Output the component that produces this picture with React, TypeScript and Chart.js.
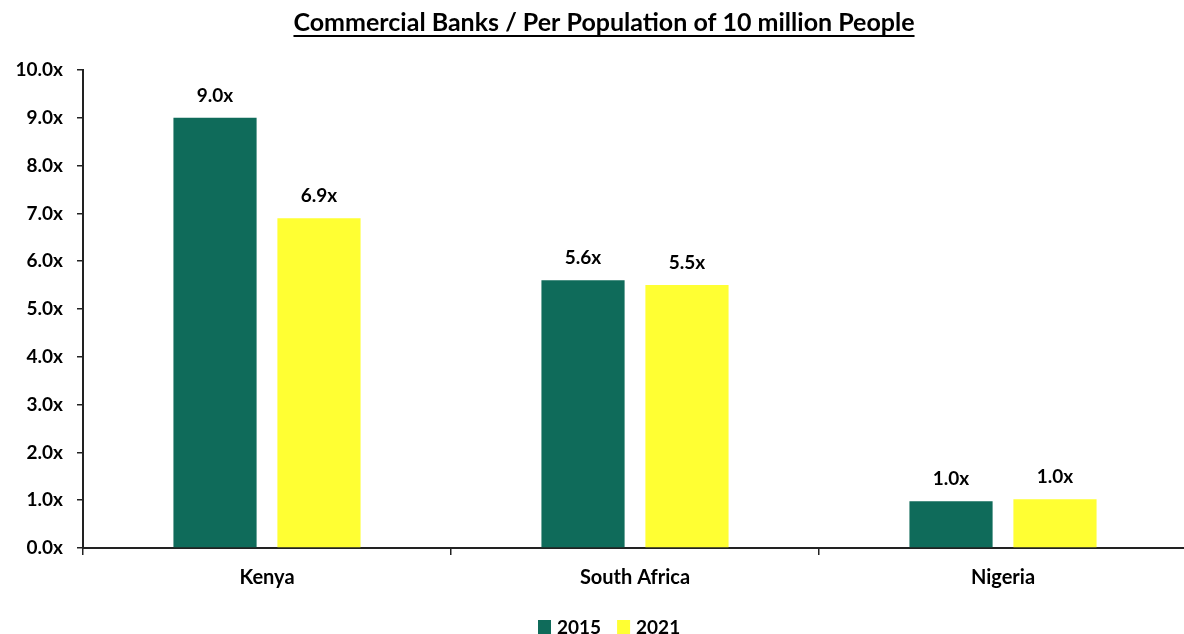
import React, { useEffect, useRef } from "react";
import { Chart, registerables } from "chart.js";

Chart.register(...registerables);

const titleText = "Commercial Banks / Per Population of 10 million People";
const categories = ["Kenya", "South Africa", "Nigeria"];
const seriesNames = ["2015", "2021"];
const values2015 = [9.0, 5.6, 0.98];
const values2021 = [6.9, 5.5, 1.02];
const yMin = 0;
const yMax = 10;
const yStep = 1;

const colors = ["#0F6B5A", "#FFFF33"];
const FONT = "Lato, 'Open Sans', sans-serif";

const fmt = (v: number) => Number(v).toFixed(1) + "x";

const overlayPlugin = {
  id: "overlay",
  afterDatasetsDraw(chart: any) {
    const ctx = chart.ctx;
    ctx.save();
    // data labels
    ctx.font = `bold 19px ${FONT}`;
    ctx.fillStyle = "#000";
    ctx.textAlign = "center";
    ctx.textBaseline = "alphabetic";
    chart.data.datasets.forEach((ds: any, i: number) => {
      const meta = chart.getDatasetMeta(i);
      meta.data.forEach((bar: any, j: number) => {
        ctx.fillText(fmt(ds.data[j]), bar.x, bar.y - 16);
      });
    });
    // title
    ctx.font = `bold 25px ${FONT}`;
    ctx.textAlign = "center";
    const tx = 604;
    const ty = 31;
    ctx.fillText(titleText, tx, ty);
    const w = ctx.measureText(titleText).width;
    ctx.fillRect(tx - w / 2, ty + 4, w, 2);
    // legend
    ctx.font = `bold 19px ${FONT}`;
    ctx.textAlign = "left";
    let x = 538;
    chart.data.datasets.forEach((ds: any) => {
      ctx.fillStyle = ds.backgroundColor;
      ctx.fillRect(x, 620, 13, 14);
      ctx.fillStyle = "#000";
      ctx.fillText(ds.label, x + 19, 634);
      x += 19 + ctx.measureText(ds.label).width + 16;
    });
    ctx.restore();
  },
};

export default function App() {
  const ref = useRef<HTMLCanvasElement>(null);
  useEffect(() => {
    let chart: any = null;
    let cancelled = false;
    const make = () => {
      if (cancelled || !ref.current) return;
      chart = new Chart(ref.current, {
        type: "bar",
        data: {
          labels: categories,
          datasets: [
            { label: seriesNames[0], data: values2015, backgroundColor: colors[0] },
            { label: seriesNames[1], data: values2021, backgroundColor: colors[1] },
          ],
        },
        options: {
          responsive: false,
          animation: false,
          layout: { padding: { top: 70, left: 0, right: 0, bottom: 0 } },
          datasets: { bar: { categoryPercentage: 0.565, barPercentage: 0.8 } },
          plugins: { legend: { display: false }, title: { display: false }, tooltip: { enabled: false } },
          scales: {
            x: {
              offset: true,
              grid: { drawOnChartArea: false, drawTicks: true, tickLength: 7, offset: true, color: "#222", lineWidth: 1.5 },
              border: { display: true, color: "#222", width: 2 },
              ticks: { font: { family: FONT, weight: "bold", size: 20 }, color: "#000", padding: 11 },
              afterFit: (s: any) => { s.height = 86; },
            },
            y: {
              min: yMin,
              max: yMax,
              ticks: { stepSize: yStep, callback: (v: any) => fmt(v), font: { family: FONT, weight: "bold", size: 19 }, color: "#000", padding: 14 },
              grid: { drawOnChartArea: false, drawTicks: true, tickLength: 6, color: "#222", lineWidth: 1.5 },
              border: { display: true, color: "#222", width: 2 },
              afterFit: (s: any) => { s.width = 83; },
            },
          },
        },
        plugins: [overlayPlugin],
      } as any);
    };
    const p = (document as any).fonts ? Promise.all([
      (document as any).fonts.load(`bold 19px Lato`),
      (document as any).fonts.load(`bold 25px Lato`),
    ]).catch(() => null) : Promise.resolve();
    p.then(make);
    return () => {
      cancelled = true;
      if (chart) chart.destroy();
    };
  }, []);
  return (
    <div style={{ position: "fixed", left: 0, top: 0, width: 1184, height: 634, overflow: "hidden", background: "#fff" }}>
      <canvas ref={ref} width={1187} height={634} style={{ display: "block" }} />
    </div>
  );
}
